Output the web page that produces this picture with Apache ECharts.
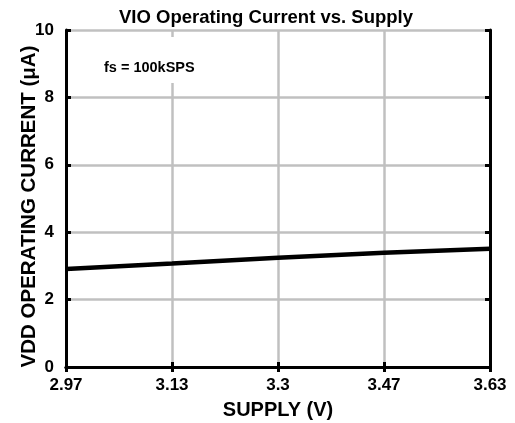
<!DOCTYPE html>
<html><head><meta charset="utf-8">
<script src="https://cdn.jsdelivr.net/npm/echarts@6/dist/echarts.min.js"></script>
<style>html,body{margin:0;padding:0;background:#fff}#c{width:515px;height:423px}</style>
</head><body><div id="c"></div>
<script>
var supplyLabels = ['2.97', '3.13', '3.3', '3.47', '3.63'];
var currentValues = [2.91, 3.07, 3.24, 3.39, 3.51];
var yTicks = [0, 2, 4, 6, 8, 10];

var font = '"Liberation Sans", Arial, sans-serif';
var chart = echarts.init(document.getElementById('c'), null, {renderer: 'canvas'});
var tickStyle = {show: true, inside: true, length: 5, lineStyle: {color: '#000', width: 3}};
chart.setOption({
  animation: false,
  backgroundColor: '#fff',
  title: {
    text: 'VIO Operating Current vs. Supply', left: 261, top: 3, textAlign: 'center',
    textStyle: {fontFamily: font, fontWeight: 'bold', fontSize: 18.5, color: '#000'}
  },
  grid: {left: 66, right: 25, top: 30, bottom: 56, outerBoundsMode: 'none', containLabel: false},
  graphic: [{
    type: 'rect', left: 160, top: 37, z: 9,
    shape: {width: 20, height: 46}, style: {fill: '#fff'}
  }, {
    type: 'text', left: 104, top: 60, z: 10,
    style: {text: 'fs = 100kSPS', font: 'bold 14.5px "Liberation Sans", Arial, sans-serif', fill: '#000'}
  }],
  xAxis: [{
    type: 'category', data: supplyLabels, boundaryGap: false,
    name: 'SUPPLY (V)', nameLocation: 'middle', nameGap: 33, nameMoveOverlap: false,
    nameTextStyle: {fontFamily: font, fontWeight: 'bold', fontSize: 20, color: '#000'},
    axisLine: {lineStyle: {color: '#000', width: 3}},
    axisTick: tickStyle,
    axisLabel: {fontFamily: font, fontWeight: 'bold', fontSize: 17, color: '#000', margin: 10},
    splitLine: {show: true, lineStyle: {color: '#c0c0c0', width: 2.5}}
  }, {
    type: 'category', data: supplyLabels, boundaryGap: false, position: 'top',
    axisLine: {lineStyle: {color: '#000', width: 3}},
    axisTick: tickStyle, axisLabel: {show: false}, splitLine: {show: false}
  }],
  yAxis: [{
    type: 'value', min: yTicks[0], max: yTicks[yTicks.length - 1], interval: 2,
    name: 'VDD OPERATING CURRENT (\u03bcA)', nameLocation: 'middle', nameGap: 26, nameMoveOverlap: false,
    nameTextStyle: {fontFamily: font, fontWeight: 'bold', fontSize: 20.5, color: '#000', padding: [0, 16, 0, 0]},
    axisLine: {show: true, lineStyle: {color: '#000', width: 3}},
    axisTick: tickStyle,
    axisLabel: {fontFamily: font, fontWeight: 'bold', fontSize: 17, color: '#000', margin: 12},
    splitLine: {show: true, lineStyle: {color: '#c0c0c0', width: 2.5}}
  }, {
    type: 'value', min: yTicks[0], max: yTicks[yTicks.length - 1], interval: 2, position: 'right',
    axisLine: {show: true, lineStyle: {color: '#000', width: 3}},
    axisTick: tickStyle, axisLabel: {show: false}, splitLine: {show: false}
  }],
  series: [{
    type: 'line', data: currentValues, showSymbol: false, smooth: false, z: 5,
    lineStyle: {color: '#000', width: 4.5}
  }]
});
</script></body></html>
